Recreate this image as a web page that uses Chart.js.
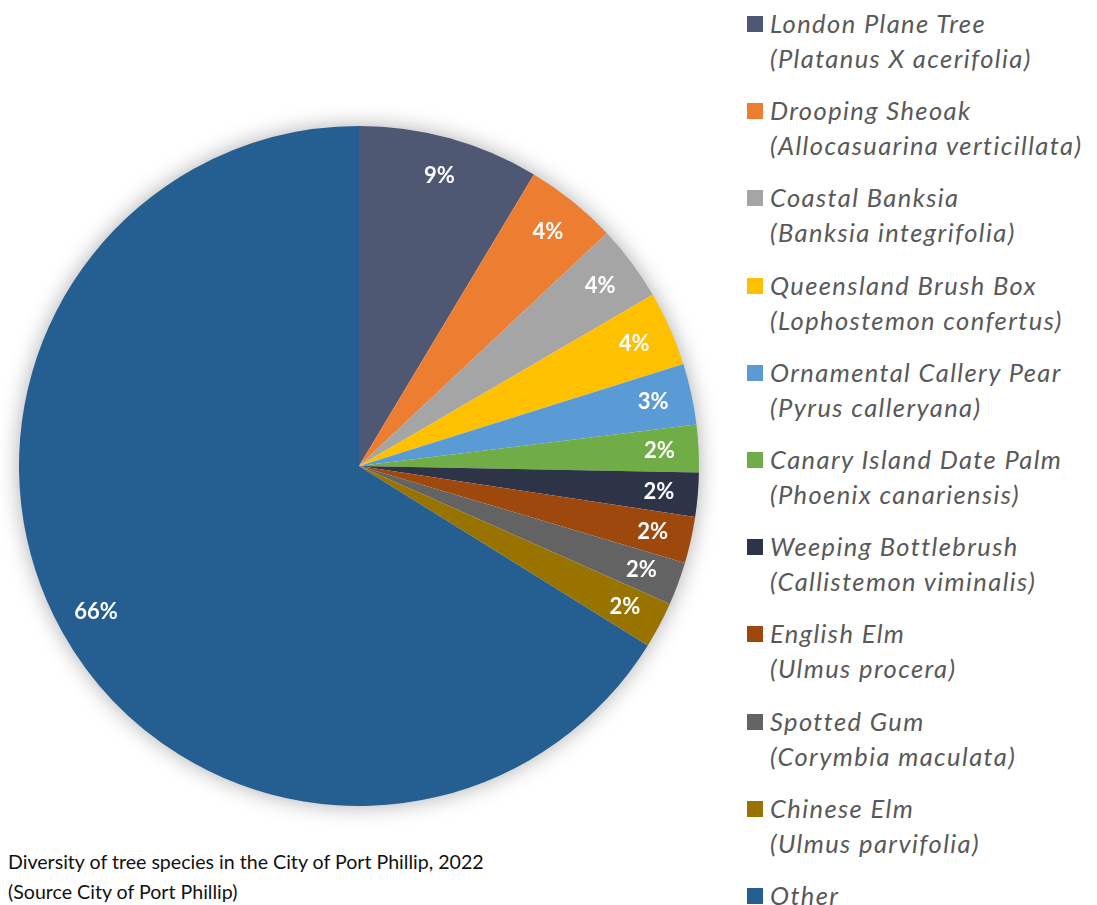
<!DOCTYPE html>
<html>
<head>
<meta charset="utf-8">
<script src="https://cdn.jsdelivr.net/npm/chart.js@4.4.1/dist/chart.umd.min.js"></script>
<style>
  body { margin: 0; background: #fff; width: 1097px; height: 905px; overflow: hidden; position: relative; font-family: Lato, "Open Sans", sans-serif; }
  #pieBox { position: absolute; left: 0; top: 96px; width: 718px; height: 740px; }
  #legend { position: absolute; left: 747px; top: 0; }
  .item { position: absolute; left: 0; width: 350px; color: #595959; font-style: italic; font-size: 25.5px; letter-spacing: 1.4px; line-height: 35px; white-space: nowrap; font-family: Lato, sans-serif; }
  .item .sw { position: absolute; left: 0; top: 10px; width: 16px; height: 16px; }
  .item .txt { position: absolute; left: 23px; top: 0; }
  #caption { position: absolute; left: 8px; top: 847px; font-size: 19.6px; line-height: 30px; color: #111; font-family: Lato, sans-serif; }
</style>
</head>
<body>
<div id="pieBox"><canvas id="pie"></canvas></div>
<div id="legend"></div>
<div id="caption">Diversity of tree species in the City of Port Phillip, 2022<br>(Source City of Port Phillip)</div>
<script>
const commonNames = ["London Plane Tree", "Drooping Sheoak", "Coastal Banksia", "Queensland Brush Box",
  "Ornamental Callery Pear", "Canary Island Date Palm", "Weeping Bottlebrush", "English Elm",
  "Spotted Gum", "Chinese Elm", "Other"];
const scientificNames = ["(Platanus X acerifolia)", "(Allocasuarina verticillata)", "(Banksia integrifolia)",
  "(Lophostemon confertus)", "(Pyrus calleryana)", "(Phoenix canariensis)", "(Callistemon viminalis)",
  "(Ulmus procera)", "(Corymbia maculata)", "(Ulmus parvifolia)", ""];
const shares = [8.6, 4.4, 3.6, 3.55, 2.9, 2.25, 2.1, 2.2, 2.05, 2.2, 66.15];
const colors = ["#4e5873", "#ed7d31", "#a5a5a5", "#ffc000", "#5b9bd5", "#70ad47",
  "#2e3447", "#9e480e", "#636363", "#997300", "#255e91"];

// soft shadow behind the pie
const pieShadow = {
  id: "pieShadow",
  beforeDatasetsDraw(chart) {
    const arc = chart.getDatasetMeta(0).data[0];
    if (!arc) return;
    const ctx = chart.ctx;
    ctx.save();
    ctx.shadowColor = "rgba(0,0,0,0.35)";
    ctx.shadowBlur = 22;
    ctx.beginPath();
    ctx.arc(arc.x, arc.y, arc.outerRadius - 1, 0, Math.PI * 2);
    ctx.fillStyle = "#fff";
    ctx.fill();
    ctx.restore();
  }
};

// percentage labels inside slices
const pctLabels = {
  id: "pctLabels",
  afterDatasetsDraw(chart) {
    const ctx = chart.ctx;
    const total = shares.reduce((a, b) => a + b, 0);
    ctx.save();
    ctx.fillStyle = "#fff";
    ctx.font = "bold 22px Lato, 'Open Sans', sans-serif";
    ctx.textAlign = "center";
    ctx.textBaseline = "middle";
    chart.getDatasetMeta(0).data.forEach((arc, i) => {
      const mid = (arc.startAngle + arc.endAngle) / 2;
      const r = arc.outerRadius * 0.885;
      const pct = Math.round(shares[i] / total * 100) + "%";
      ctx.fillText(pct, arc.x + Math.cos(mid) * r, arc.y + Math.sin(mid) * r);
    });
    ctx.restore();
  }
};

new Chart(document.getElementById("pie"), {
  type: "pie",
  data: {
    labels: commonNames,
    datasets: [{
      data: shares,
      backgroundColor: colors,
      borderWidth: 0
    }]
  },
  options: {
    responsive: true,
    maintainAspectRatio: false,
    animation: false,
    layout: { padding: { left: 19, right: 19, top: 30, bottom: 30 } },
    plugins: {
      legend: { display: false },
      tooltip: { enabled: false }
    }
  },
  plugins: [pieShadow, pctLabels]
});

// legend built from the same arrays
const legend = document.getElementById("legend");
commonNames.forEach((name, i) => {
  const div = document.createElement("div");
  div.className = "item";
  div.style.top = (6 + i * 87.2) + "px";
  div.innerHTML = '<span class="sw" style="background:' + colors[i] + '"></span><span class="txt">' +
    name + (scientificNames[i] ? "<br>" + scientificNames[i] : "") + "</span>";
  legend.appendChild(div);
});
</script>
</body>
</html>
